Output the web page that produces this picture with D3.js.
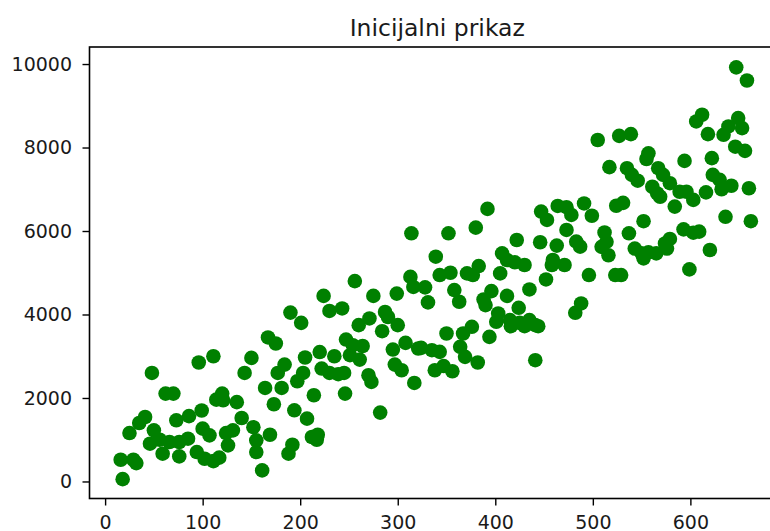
<!DOCTYPE html>
<html>
<head>
<meta charset="utf-8">
<script src="https://cdn.jsdelivr.net/npm/d3@7"></script>
<style>
  body { margin: 0; background: #fff; }
  svg { font-family: "DejaVu Sans", sans-serif; }
</style>
</head>
<body>
<script>
//chart title and tick values
var title = "Inicijalni prikaz";
var xTicks = [0, 100, 200, 300, 400, 500, 600];
var yTicks = [0, 2000, 4000, 6000, 8000, 10000];

//scatter values
var xs = [111, 96, 48, 150, 143, 62, 70, 120, 114, 121, 135, 99, 86, 73, 41, 35, 25, 50, 140, 152,
  100, 107, 124, 131, 126, 46, 56, 66, 76, 85, 59, 76, 94, 102, 111, 117, 16, 29, 32, 18,
  155, 155, 256, 313, 316, 224, 275, 299, 190, 201, 230, 243, 271, 260, 287, 290, 300, 284, 167, 175,
  247, 254, 264, 251, 261, 295, 308, 321, 220, 235, 205, 184, 177, 222, 230, 239, 245, 203, 197, 297,
  304, 270, 273, 164, 181, 317, 214, 246, 173, 194, 207, 282, 169, 212, 218, 217, 192, 188, 161, 392,
  447, 453, 464, 473, 478, 491, 499, 473, 314, 352, 380, 422, 446, 463, 483, 487, 339, 407, 412, 420,
  430, 459, 458, 471, 383, 377, 371, 343, 354, 405, 328, 452, 496, 435, 358, 363, 396, 388, 390, 412,
  331, 488, 482, 424, 403, 401, 415, 416, 425, 435, 441, 444, 430, 350, 376, 367, 394, 324, 335, 343,
  364, 369, 382, 441, 338, 347, 356, 647, 658, 612, 606, 618, 649, 653, 639, 634, 646, 656, 505, 527,
  539, 557, 555, 594, 622, 517, 535, 540, 546, 567, 572, 579, 623, 630, 642, 632, 660, 561, 566, 569,
  589, 596, 603, 616, 584, 524, 531, 552, 636, 662, 512, 514, 509, 516, 537, 593, 603, 609, 579, 574,
  576, 543, 550, 557, 565, 552, 620, 599, 523, 529];
var ys = [3000, 2850, 2600, 2960, 2600, 2105, 2105, 2105, 1960, 1945, 1900, 1700, 1565, 1465, 1545, 1400, 1160, 1225, 1520, 1300,
  1265, 1105, 1160, 1225, 865, 905, 1000, 945, 945, 1025, 665, 600, 705, 545, 487, 570, 520, 520, 440, 55,
  985, 705, 4800, 4900, 4660, 4445, 4445, 4500, 4045, 3800, 4085, 4145, 3905, 3745, 4060, 3940, 3745, 3600, 3450, 3305,
  3400, 3265, 3245, 3025, 2920, 3160, 3320, 3185, 3100, 3000, 2970, 2800, 2600, 2705, 2600, 2570, 2600, 2600, 2400, 2800,
  2665, 2545, 2385, 2240, 2240, 2360, 2065, 2105, 1850, 1705, 1505, 1650, 1120, 1065, 1120, 1000, 880, 665, 265, 6530,
  6465, 6265, 6600, 6570, 6385, 6660, 6365, 6025, 5945, 5945, 6080, 5785, 5730, 5650, 5745, 5625, 5385, 5465, 5305, 5250,
  5185, 5305, 5185, 5185, 5160, 4945, 4985, 4945, 5000, 4985, 4650, 4840, 4945, 4600, 4585, 4305, 4560, 4360, 4225, 4445,
  4290, 4265, 4040, 4160, 4025, 3825, 3865, 3720, 3800, 3865, 3745, 3720, 3720, 3545, 3705, 3545, 3465, 3200, 3145, 3105,
  3225, 2985, 2850, 2905, 2665, 2765, 2640, 9920, 9605, 8785, 8625, 8320, 8705, 8465, 8505, 8305, 8020, 7920, 8180, 8280,
  8320, 7860, 7725, 7680, 7745, 7530, 7505, 7345, 7205, 7505, 7345, 7145, 7345, 7225, 7085, 7000, 7025, 7060, 6900, 6820,
  6940, 6940, 6745, 6925, 6585, 6605, 6675, 6235, 6340, 6235, 5965, 5740, 5620, 5420, 5945, 6040, 5960, 5985, 5810, 5700,
  5580, 5580, 5465, 5490, 5465, 5345, 5545, 5080, 4945, 4945];

var points = xs.map(function(x, i){ return {x: x, y: ys[i]}; });

drawChart();

function drawChart(){
  var width = 770,
      height = 531;

  //axes box in pixels (right edge falls outside the window, as in the picture)
  var left = 89.5, right = 785, top = 47, bottom = 498.5;

  var svg = d3.select("body")
    .append("svg")
    .attr("width", width)
    .attr("height", height);

  var x = d3.scaleLinear()
    .domain([-16, 697])
    .range([left, right]);

  var y = d3.scaleLinear()
    .domain([-408, 10408])
    .range([bottom, top]);

  //points
  svg.append("g")
    .selectAll("circle")
    .data(points)
    .enter()
    .append("circle")
    .attr("cx", function(d){ return x(d.x); })
    .attr("cy", function(d){ return y(d.y); })
    .attr("r", 7.3)
    .attr("fill", "#008000");

  //x axis
  var xAxis = svg.append("g")
    .attr("transform", "translate(0," + bottom + ")")
    .call(d3.axisBottom(x).tickValues(xTicks).tickSize(7).tickPadding(10).tickFormat(d3.format("d")));

  //y axis
  var yAxis = svg.append("g")
    .attr("transform", "translate(" + left + ",0)")
    .call(d3.axisLeft(y).tickValues(yTicks).tickSize(7).tickPadding(10.5).tickFormat(d3.format("d")));

  [xAxis, yAxis].forEach(function(g){
    g.select(".domain").remove();
    g.selectAll(".tick line").attr("stroke", "#000").attr("stroke-width", 1.4);
    g.selectAll(".tick text")
      .attr("fill", "#1a1a1a")
      .style("font-size", "19px")
      .style("font-family", "'DejaVu Sans', sans-serif");
  });

  //frame
  svg.append("rect")
    .attr("x", left)
    .attr("y", top)
    .attr("width", right - left)
    .attr("height", bottom - top)
    .attr("fill", "none")
    .attr("stroke", "#000")
    .attr("stroke-width", 1.6);

  //title
  svg.append("text")
    .attr("x", (left + right) / 2)
    .attr("y", 35.5)
    .attr("text-anchor", "middle")
    .attr("fill", "#1a1a1a")
    .style("font-size", "23.5px")
    .text(title);
}
</script>
</body>
</html>
